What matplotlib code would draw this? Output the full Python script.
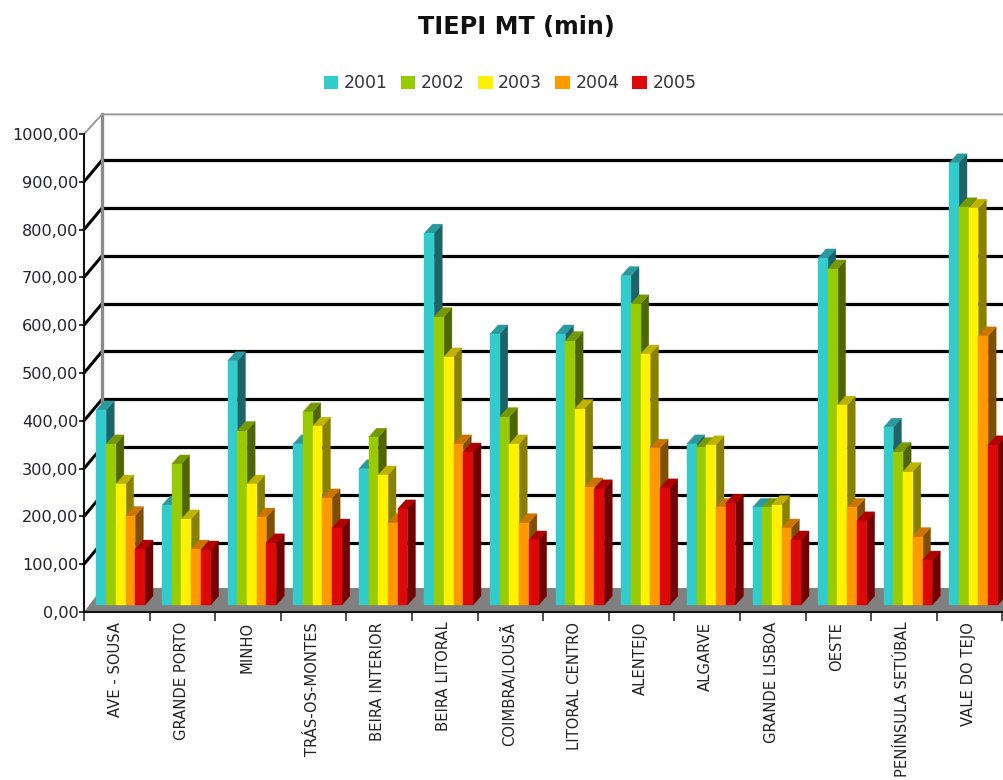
import matplotlib
matplotlib.use('Agg')
import matplotlib.pyplot as plt
from matplotlib.patches import Patch
import numpy as np

regions = ["AVE - SOUSA", "GRANDE PORTO", "MINHO", "TRÁS-OS-MONTES", "BEIRA INTERIOR",
	"BEIRA LITORAL", "COIMBRA/LOUSÃ", "LITORAL CENTRO", "ALENTEJO", "ALGARVE",
	"GRANDE LISBOA", "OESTE", "PENÍNSULA SETÚBAL", "VALE DO TEJO"]
years = ["2001", "2002", "2003", "2004", "2005"]

v2001 = [408, 209, 511, 337, 285, 778, 567, 567, 689, 337, 204, 726, 372, 925]
v2002 = [337, 295, 365, 404, 351, 603, 394, 553, 630, 331, 204, 703, 321, 833]
v2003 = [253, 180, 253, 374, 272, 519, 337, 411, 525, 335, 210, 418, 279, 830]
v2004 = [187, 117, 184, 224, 172, 337, 172, 247, 328, 204, 161, 204, 143, 563]
v2005 = [117, 115, 130, 161, 201, 320, 136, 243, 245, 213, 136, 176, 94, 335]
series = [v2001, v2002, v2003, v2004, v2005]

# front, top and side face colours for each year
front = ["#33CCCC", "#99CC00", "#FFF200", "#FF9900", "#DD0808"]
top = ["#2A9A9E", "#759900", "#BDB300", "#CC7400", "#B00000"]
side = ["#1C6468", "#4F6600", "#8A8000", "#804E00", "#730000"]

W, H = 1004, 780
PX_X = 65.6       # pixels per region
PX_Y = 0.478      # pixels per minute
XMAX = (W - 84) / PX_X

# depth of the box and of the bars, in data units
BOX_DX = 18 / PX_X
BOX_DY = 45
FLOOR_DY = 50
TOP_Y = 1041
BAR_DX = 8 / PX_X
BAR_DY = 9 / PX_Y
BAR_W = 9.7 / PX_X
BAR_X0 = 12.5 / PX_X
BAR_Y0 = 7 / PX_Y

fig = plt.figure(figsize=(W / 100, H / 100), dpi=100)
ax = fig.add_axes([84 / W, (H - 612) / H, (W - 84) / W, 478 / H])
ax.set_xlim(0, XMAX)
ax.set_ylim(0, 1000)

# floor and back wall
for v in range(100, 1000, 100):
	ax.plot([BOX_DX, XMAX], [v + BOX_DY, v + BOX_DY], color="black", lw=2.3, zorder=2, clip_on=False, solid_capstyle="butt")
	ax.plot([0, BOX_DX], [v, v + BOX_DY], color="black", lw=2.2, zorder=2, clip_on=False)
ax.fill([0, XMAX, XMAX, BOX_DX], [0, 0, FLOOR_DY, FLOOR_DY], color="#808080", lw=0, zorder=2.5, clip_on=False)
ax.plot([BOX_DX, BOX_DX], [FLOOR_DY, TOP_Y], color="#8A8A8A", lw=2.4, zorder=2, clip_on=False)
ax.plot([0, BOX_DX, XMAX], [1000, TOP_Y, TOP_Y], color="#999999", lw=1.4, zorder=2, clip_on=False)

# bars, left to right so each one hides the side of the previous one
z = 3
for g in range(len(regions)):
	for s, vals in enumerate(series):
		x0 = g + BAR_X0 + s * BAR_W
		x1 = x0 + BAR_W
		ytop = BAR_Y0 + vals[g]
		ax.fill([x1, x1 + BAR_DX, x1 + BAR_DX, x1], [BAR_Y0, BAR_Y0 + BAR_DY, ytop + BAR_DY, ytop],
			facecolor=side[s], edgecolor=side[s], lw=0.3, zorder=z)
		ax.fill([x0, x1, x1 + BAR_DX, x0 + BAR_DX], [ytop, ytop, ytop + BAR_DY, ytop + BAR_DY],
			facecolor=top[s], edgecolor=top[s], lw=0.3, zorder=z)
		ax.bar(x0, vals[g], width=BAR_W, bottom=BAR_Y0, align="edge", color=front[s], edgecolor=front[s], lw=0.3, zorder=z)
		z += 1

for name in ["top", "right"]:
	ax.spines[name].set_visible(False)
for name in ["left", "bottom"]:
	ax.spines[name].set_linewidth(1.5)
	ax.spines[name].set_color("#111111")
	ax.spines[name].set_zorder(200)

ax.set_yticks(np.arange(0, 1001, 100))
ax.set_yticklabels(["%d,00" % v for v in range(0, 1001, 100)], fontsize=11.6, color="#222233")
ax.tick_params(axis="y", length=3.5, width=1.2, pad=0.5, color="#111111")

# ticks between regions, names centred on each region
ax.set_xticks(np.arange(0, len(regions) + 1))
ax.set_xticklabels([])
ax.set_xticks(np.arange(len(regions)) + 0.48, minor=True)
ax.set_xticklabels(regions, minor=True, rotation=90, fontsize=10.6, color="#222222", va="top", ha="center")
ax.tick_params(axis="x", which="major", length=6.5, width=1.2, color="#333333")
ax.tick_params(axis="x", which="minor", length=0, pad=7)

fig.text(516 / W, 1 - 27 / H, "TIEPI MT (min)", fontsize=17.2, fontweight="bold", ha="center", va="center", color="#111111")

handles = [Patch(facecolor=c, lw=0) for c in front]
fig.legend(handles, years, loc="center", bbox_to_anchor=(510 / W, 1 - 83.5 / H), ncol=5, frameon=False,
	fontsize=12.5, labelcolor="#333344", handlelength=0.84, handleheight=0.84, handletextpad=0.32,
	columnspacing=0.75, borderpad=0)

plt.savefig("out.png", dpi=100)
